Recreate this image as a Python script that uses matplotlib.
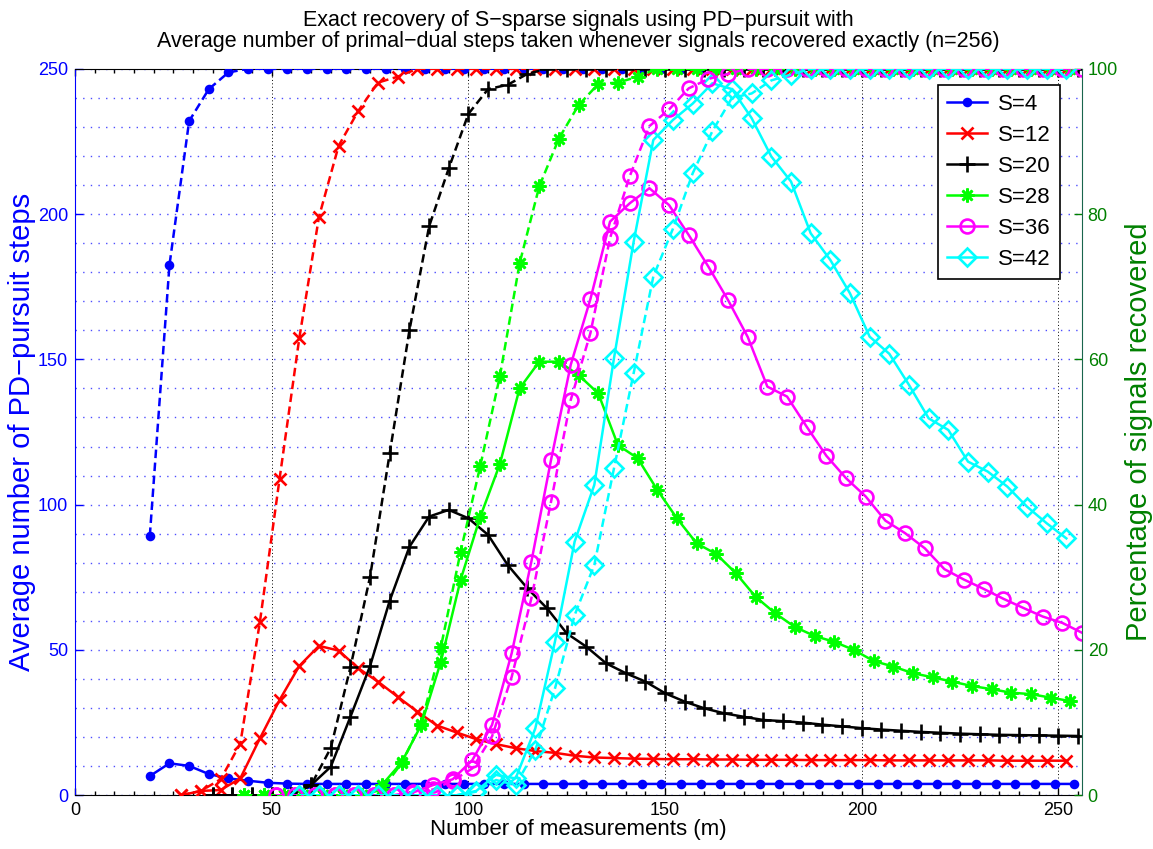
import matplotlib
matplotlib.use('Agg')
import matplotlib.pyplot as plt
from matplotlib.ticker import MultipleLocator

plt.rcParams['font.family'] = ['Liberation Sans', 'DejaVu Sans']

# number of measurements m used for each sparsity level S
m_s4 = list(range(19, 257, 5))
m_s12 = list(range(27, 257, 5))
m_s20 = list(range(35, 257, 5))
m_s28 = list(range(43, 257, 5))
m_s36 = list(range(51, 257, 5))
m_s42 = list(range(57, 257, 5))

# average number of PD-pursuit steps (left axis, solid lines)
steps_s4 = [6.6, 11.0, 10.1, 7.3, 5.8, 5.0, 4.3, 4.0] + [3.9] * 40
steps_s12 = [0, 1.5, 1.8, 5.8, 19.6, 32.8, 44.5, 51.4, 49.8, 43.7,
             39.1, 33.9, 28.8, 24.0, 21.6, 19.3, 17.6, 16.2, 15.2, 14.6,
             13.6, 13.0, 12.8, 12.6, 12.5, 12.4, 12.4, 12.3, 12.3, 12.2,
             12.2, 12.2, 12.1, 12.1, 12.1, 12.1, 12.0, 12.0, 12.0, 12.0,
             12.0, 12.0, 11.9, 11.9, 11.9, 11.9]
steps_s20 = [0, 0, 0, 0, 0, 3.5, 9.8, 27.0, 44.5, 67.0,
             85.5, 95.9, 98.2, 95.3, 89.6, 79.2, 71.2, 64.3, 55.7, 51.1,
             45.4, 42.0, 39.1, 35.1, 32.2, 29.9, 28.2, 27.0, 25.9, 25.5,
             25.0, 24.3, 23.7, 23.1, 22.6, 22.2, 21.8, 21.5, 21.2, 21.0,
             20.8, 20.7, 20.6, 20.5, 20.4]
steps_s28 = [0, 0, 0, 0, 0, 0, 0, 3.5, 11.3, 24.2,
             46.0, 74.1, 95.8, 114.0, 140.0, 149.2, 149.2, 144.6, 138.3, 120.5,
             116.0, 105.1, 95.3, 86.7, 83.0, 76.4, 68.3, 62.6, 57.9, 54.8,
             52.8, 50.0, 46.2, 44.3, 42.0, 40.6, 39.1, 37.6, 36.5, 35.3,
             34.8, 33.6, 32.4]
steps_s36 = [0, 0, 0, 0, 0, 0, 0, 1.0, 3.5, 5.5,
             12.1, 24.2, 48.9, 80.4, 115.4, 148.1, 170.7, 197.4, 203.7, 208.9,
             203.1, 192.8, 181.9, 170.4, 157.7, 140.6, 137.2, 126.8, 116.8, 109.1,
             102.8, 94.5, 90.2, 85.0, 77.8, 74.2, 71.0, 67.6, 64.5, 61.5,
             59.3, 55.9]
steps_s42 = [0, 0, 0, 0, 0, 0, 0, 0, 0, 1.5,
             7.0, 5.8, 23.0, 52.9, 87.3, 106.8, 150.4, 190.5, 225.5, 232.4,
             238.0, 245.0, 243.0, 233.0, 219.8, 211.2, 193.4, 184.2, 172.7, 157.8,
             151.9, 141.2, 129.7, 125.7, 114.8, 111.4, 106.2, 99.3, 93.6, 88.4]

# percentage of signals recovered exactly (right axis, dashed lines)
pct_s4 = [35.7, 73.0, 92.8, 97.2, 99.5] + [100] * 43
pct_s12 = [0, 0.6, 2.2, 7.1, 23.9, 43.6, 62.9, 79.6, 89.4, 94.2,
           98.1, 98.9] + [100] * 34
pct_s20 = [0, 0, 0, 0, 0, 1.4, 6.5, 17.6, 30.1, 47.1,
           64.0, 78.3, 86.3, 93.8, 97.2, 97.8, 99.3] + [100] * 28
pct_s28 = [0, 0, 0, 0, 0, 0, 0, 0.8, 4.4, 9.8,
           20.4, 33.5, 45.3, 57.7, 73.2, 83.8, 90.4, 95.0, 97.9, 98.1,
           98.9] + [100] * 22
pct_s36 = [0, 0, 0, 0, 0, 0, 0, 0.3, 0.8, 2.0,
           3.7, 8.1, 16.3, 27.1, 40.4, 54.4, 63.6, 76.7, 85.2, 92.1,
           94.4, 97.3, 98.6, 99.3] + [100] * 18
pct_s42 = [0, 0, 0, 0, 0, 0, 0, 0, 0, 0.5,
           2.1, 1.4, 6.2, 14.7, 24.8, 31.7, 45.0, 58.1, 71.4, 78.0,
           85.6, 91.4, 96.0, 96.6, 98.4, 99.2] + [100] * 14

labels = ['S=4', 'S=12', 'S=20', 'S=28', 'S=36', 'S=42']
colors = ['#0000ff', '#ff0000', '#000000', '#00ff00', '#ff00ff', '#00ffff']
markers = ['o', 'x', '+', (8, 2, 0), 'o', 'D']
msizes = [5, 9, 12, 10, 10, 9]
filled = [True, False, False, False, False, False]

ms_all = [m_s4, m_s12, m_s20, m_s28, m_s36, m_s42]
steps_all = [steps_s4, steps_s12, steps_s20, steps_s28, steps_s36, steps_s42]
pct_all = [pct_s4, pct_s12, pct_s20, pct_s28, pct_s36, pct_s42]

green_dark = (0, 0.5, 0)

fig = plt.figure(figsize=(11.53, 8.49), dpi=100)
ax = fig.add_axes([0.0651, 0.0633, 0.8734, 0.8557])
ax2 = ax.twinx()

handles = []
for m, st, pc, lab, c, mk, ms, f in zip(ms_all, steps_all, pct_all, labels,
                                        colors, markers, msizes, filled):
    style = dict(color=c, lw=1.8, marker=mk, markersize=ms, markeredgewidth=1.9,
                 markeredgecolor=c, markerfacecolor=c if f else 'none')
    h, = ax.plot(m, st, '-', label=lab, **style)
    ax2.plot(m, pc, linestyle=(0, (3.4, 1.8)), **style)
    handles.append(h)

ax.set_xlim(0, 256)
ax.set_ylim(0, 250)
ax2.set_ylim(0, 100)

ax.set_xticks(range(0, 251, 50))
ax.xaxis.set_minor_locator(MultipleLocator(5))
ax.set_yticks(range(0, 251, 50))
ax.yaxis.set_minor_locator(MultipleLocator(10))
ax2.set_yticks(range(0, 101, 20))

# grid: black dotted verticals, blue dotted horizontals
ax.grid(axis='x', which='major', color='k', linestyle=(0, (1, 2.5)), lw=0.7)
ax.grid(axis='y', which='both', color=(0.3, 0.3, 1), linestyle=(0, (1, 4.5)), lw=1.0)
ax.set_axisbelow(True)

ax.tick_params(axis='x', which='major', direction='in', top=True, length=5,
               width=1, labelsize=13, pad=5)
ax.tick_params(axis='x', which='minor', direction='in', top=True, length=3, width=1)
ax.tick_params(axis='y', which='major', direction='in', length=6, width=1,
               colors='b', labelsize=13, pad=5)
ax.tick_params(axis='y', which='minor', length=0)
ax2.tick_params(axis='y', direction='in', length=6, width=1, colors=green_dark,
                labelsize=13, pad=4)

ax.spines['left'].set_color('b')
ax.spines['right'].set_visible(False)
for s in ['left', 'top', 'bottom']:
    ax2.spines[s].set_visible(False)
ax2.spines['right'].set_color((0.1, 0.4, 0.3))

ax.set_xlabel('Number of measurements (m)', fontsize=16, labelpad=0)
ax.set_ylabel('Average number of PD\u2212pursuit steps', fontsize=21, color='b', labelpad=1)
ax2.set_ylabel('Percentage of signals recovered', fontsize=21, color=green_dark, labelpad=5)
ax.set_title('Exact recovery of S\u2212sparse signals using PD\u2212pursuit with\n'
             'Average number of primal\u2212dual steps taken whenever signals recovered exactly (n=256)',
             fontsize=15.5, pad=16, linespacing=0.95)

leg = ax2.legend(handles, labels, loc='upper right', bbox_to_anchor=(0.978, 0.978),
                 fontsize=16, fancybox=False, edgecolor='k', framealpha=1,
                 borderaxespad=0, handlelength=1.8, handletextpad=0.5,
                 labelspacing=0.45)
leg.get_frame().set_linewidth(1.2)

fig.savefig('out.png', dpi=100)
